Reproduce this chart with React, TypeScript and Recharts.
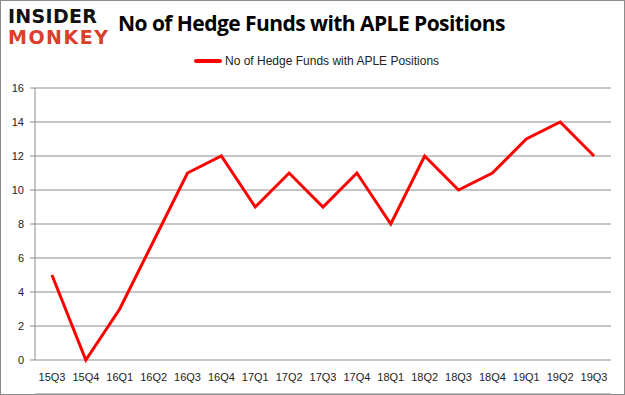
import React from "react";
import { LineChart, Line, XAxis, YAxis, CartesianGrid } from "recharts";

const quarters = ["15Q3", "15Q4", "16Q1", "16Q2", "16Q3", "16Q4", "17Q1", "17Q2", "17Q3", "17Q4", "18Q1", "18Q2", "18Q3", "18Q4", "19Q1", "19Q2", "19Q3"];
const funds = [5, 0, 3, 7, 11, 12, 9, 11, 9, 11, 8, 12, 10, 11, 13, 14, 12];
const yTicks = [0, 2, 4, 6, 8, 10, 12, 14, 16];
const boundaryTicks = quarters.map((_, i) => i).concat(quarters.length);

const seriesName = "No of Hedge Funds with APLE Positions";
const data = quarters.map((q, i) => ({ q, v: funds[i], idx: i + 0.5 }));

const font = "'Liberation Sans', Arial, sans-serif";

export default function App() {
  return (
    <div
      style={{
        position: "absolute",
        left: 0,
        top: 0,
        width: 625,
        height: 395,
        background: "#fff",
        border: "1px solid #8c8c8c",
        boxSizing: "border-box",
        fontFamily: font,
      }}
    >
      <div style={{ position: "absolute", left: 7, top: 5, lineHeight: "21px", fontFamily: "'DejaVu Sans', sans-serif", fontWeight: 900 }}>
        <div style={{ fontSize: 19, color: "#111", letterSpacing: 0.3 }}>INSIDER</div>
        <div style={{ fontSize: 19, color: "#d9402b", letterSpacing: 1.5 }}>MONKEY</div>
      </div>
      <div
        style={{
          position: "absolute",
          left: 117,
          top: 8,
          fontSize: 21,
          fontWeight: "bold",
          fontFamily: "'Open Sans', sans-serif",
          color: "#000",
          letterSpacing: -0.55,
        }}
      >
        {seriesName}
      </div>
      <div style={{ position: "absolute", left: 193, top: 53, display: "flex", alignItems: "center", fontSize: 12, color: "#222" }}>
        <span style={{ display: "inline-block", width: 28, height: 4, background: "#ff0000", borderRadius: 2, marginRight: 3 }} />
        <span>{seriesName}</span>
      </div>
      <div style={{ position: "absolute", left: -1, top: -1 }}>
        <LineChart width={625} height={395} data={data} margin={{ top: 88, right: 14, bottom: 0, left: 0 }}>
          <CartesianGrid horizontal vertical={false} stroke="#8c8c8c" />
          <XAxis
            xAxisId="marks"
            type="number"
            dataKey="idx"
            domain={[0, quarters.length]}
            ticks={boundaryTicks}
            interval={0}
            tick={{ fill: "transparent", fontSize: 1 }}
            height={1}
            axisLine={{ stroke: "#8c8c8c" }}
            tickLine={{ stroke: "#8c8c8c" }}
            tickSize={5}
          />
          <XAxis
            dataKey="q"
            padding={{ left: 17, right: 17 }}
            axisLine={false}
            tickLine={false}
            interval={0}
            height={34}
            tick={{ fontSize: 11, fill: "#222", fontFamily: font }}
            tickMargin={7}
          />
          <YAxis
            domain={[0, 16]}
            ticks={yTicks}
            width={35}
            axisLine={{ stroke: "#8c8c8c" }}
            tickLine={{ stroke: "#8c8c8c" }}
            tickSize={5}
            tick={{ fontSize: 11, fill: "#222", fontFamily: font }}
            tickMargin={6}
          />
          <Line xAxisId="marks" type="linear" dataKey="v" stroke="#ff0000" strokeWidth={3} dot={false} isAnimationActive={false} />
        </LineChart>
      </div>
    </div>
  );
}
